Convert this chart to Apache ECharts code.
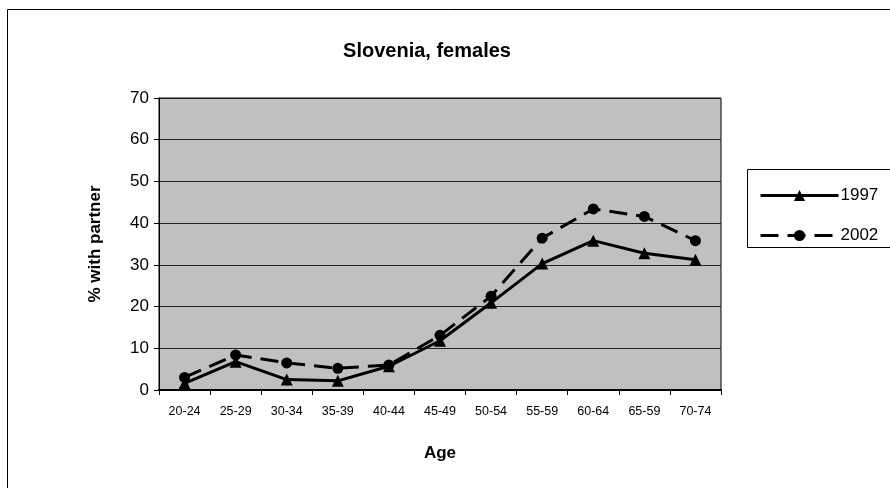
<!DOCTYPE html>
<html>
<head>
<meta charset="utf-8">
<script src="https://cdn.jsdelivr.net/npm/echarts@6/dist/echarts.min.js"></script>
<style>
    html, body { margin: 0; padding: 0; background: #fff; }
    #chart { width: 890px; height: 488px; }
</style>
</head>
<body>
<div id="chart"></div>
<script>
// age groups (the "65-59" label is as printed in the source)
var ageGroups = ['20-24', '25-29', '30-34', '35-39', '40-44', '45-49', '50-54', '55-59', '60-64', '65-59', '70-74'];
var female1997 = [1.6, 6.8, 2.5, 2.2, 5.7, 11.8, 20.9, 30.3, 35.8, 32.8, 31.2];
var female2002 = [3.0, 8.4, 6.5, 5.2, 6.0, 13.1, 22.5, 36.4, 43.4, 41.6, 35.8];
var yTicks = [0, 10, 20, 30, 40, 50, 60, 70];

var font = 'Liberation Sans, Arial, sans-serif';
var myChart = echarts.init(document.getElementById('chart'));

myChart.setOption({
    animation: false,
    textStyle: { fontFamily: font, color: '#000' },
    title: {
        text: 'Slovenia, females',
        left: 422,
        textAlign: 'center',
        top: 36,
        textStyle: { fontFamily: font, fontSize: 20, fontWeight: 'bold', color: '#000' }
    },
    graphic: [
        { type: 'rect', shape: { x: 7.5, y: 9.5, width: 900, height: 500 }, style: { fill: 'none', stroke: '#000', lineWidth: 1 } },
        { type: 'rect', shape: { x: 747.5, y: 169.5, width: 200, height: 78 }, style: { fill: '#fff', stroke: '#000', lineWidth: 1 } }
    ],
    legend: {
        orient: 'vertical',
        left: 754,
        top: 182,
        itemWidth: 78,
        itemHeight: 14,
        itemGap: 23,
        lineStyle: { width: 3 },
        textStyle: { fontFamily: font, fontSize: 17, color: '#000', padding: [0, 0, 0, -3] },
        data: ['1997', '2002']
    },
    grid: {
        left: 159,
        top: 98,
        width: 562,
        height: 292,
        show: true,
        backgroundColor: '#c0c0c0',
        borderColor: '#000',
        borderWidth: 1
    },
    xAxis: {
        type: 'category',
        data: ageGroups,
        boundaryGap: true,
        name: 'Age',
        nameLocation: 'middle',
        nameGap: 55,
        nameTextStyle: { fontFamily: font, fontSize: 17, fontWeight: 'bold', color: '#000' },
        axisLine: { lineStyle: { color: '#000', width: 2 } },
        axisTick: { show: true, length: 5, inside: false, lineStyle: { color: '#000' } },
        axisLabel: { fontFamily: font, fontSize: 12.5, color: '#000', margin: 15, interval: 0 }
    },
    yAxis: {
        type: 'value',
        min: yTicks[0],
        max: yTicks[yTicks.length - 1],
        interval: 10,
        name: '% with partner',
        nameLocation: 'middle',
        nameGap: 55,
        nameTextStyle: { fontFamily: font, fontSize: 17, fontWeight: 'bold', color: '#000' },
        axisLine: { show: true, lineStyle: { color: '#000', width: 1 } },
        axisTick: { show: true, length: 5, lineStyle: { color: '#000' } },
        axisLabel: { fontFamily: font, fontSize: 17, color: '#000', margin: 10 },
        splitLine: { show: true, lineStyle: { color: '#222', width: 1 } }
    },
    series: [
        {
            name: '1997',
            type: 'line',
            data: female1997,
            symbol: 'triangle',
            symbolSize: 12,
            itemStyle: { color: '#000' },
            lineStyle: { color: '#000', width: 3 }
        },
        {
            name: '2002',
            type: 'line',
            data: female2002,
            symbol: 'circle',
            symbolSize: 11,
            itemStyle: { color: '#000' },
            lineStyle: { color: '#000', width: 3, type: [18, 9] }
        }
    ]
});
</script>
</body>
</html>
